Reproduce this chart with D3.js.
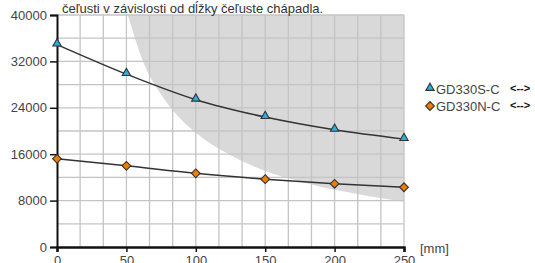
<!DOCTYPE html>
<html>
<head>
<meta charset="utf-8">
<script src="https://cdn.jsdelivr.net/npm/d3@7"></script>
<style>
  body { margin: 0; background: #fff; }
  svg { font-family: "Liberation Sans", Arial, sans-serif; }
</style>
</head>
<body>
<div id="chart"></div>
<script>
// data
const lengths = [0, 50, 100, 150, 200, 250];
const gd330s = [34900, 29800, 25400, 22400, 20200, 18600];
const gd330n = [15200, 14000, 12700, 11700, 10900, 10300];
const limitX = [51, 62, 75, 87, 100, 125, 150, 175, 200, 225, 250];
const limitY = [40000, 32000, 26300, 22600, 19700, 15800, 13100, 11300, 9850, 8750, 7800];
const yTicks = [0, 8000, 16000, 24000, 32000, 40000];
const xTicks = [0, 50, 100, 150, 200, 250];
const seriesNames = ["GD330S-C", "GD330N-C"];
const titleText = "čeľusti v závislosti od dĺžky čeľuste chápadla.";

const W = 535, H = 263;
const m = { left: 57, top: 15, right: 131, bottom: 16 };
const pw = W - m.left - m.right, ph = H - m.top - m.bottom;

const svg = d3.select("#chart").append("svg")
  .attr("width", W)
  .attr("height", H);

const x = d3.scaleLinear().domain([0, 250]).range([0, pw]);
const y = d3.scaleLinear().domain([0, 40000]).range([ph, 0]);

const g = svg.append("g").attr("transform", `translate(${m.left},${m.top})`);

// gray area above the limit curve
const limit = limitX.map((d, i) => [d, limitY[i]]);
const area = d3.area()
  .x(d => x(d[0]))
  .y0(0)
  .y1(d => y(d[1]))
  .curve(d3.curveMonotoneX);
g.append("path")
  .datum(limit)
  .attr("d", area)
  .attr("fill", "#d9d9d9");

// grid
g.append("g")
  .selectAll("line")
  .data(d3.range(1, 16).map(i => i * 250 / 15))
  .enter().append("line")
  .attr("x1", d => x(d)).attr("x2", d => x(d))
  .attr("y1", 0).attr("y2", ph)
  .attr("stroke", "#c4c4c4").attr("stroke-width", 1.3);
g.append("g")
  .selectAll("line")
  .data(d3.range(1, 11).map(i => i * 4000))
  .enter().append("line")
  .attr("x1", 0).attr("x2", pw)
  .attr("y1", d => y(d)).attr("y2", d => y(d))
  .attr("stroke", "#c4c4c4").attr("stroke-width", 1.3);

// axes
const yAxis = g.append("g")
  .call(d3.axisLeft(y).tickValues(yTicks).tickFormat(d3.format("d")).tickSize(7).tickPadding(3));
yAxis.select(".domain").attr("stroke", "#111").attr("stroke-width", 2);
yAxis.selectAll(".tick line").attr("stroke", "#111").attr("stroke-width", 1.5);
yAxis.selectAll("text").attr("font-size", 13).attr("fill", "#444");

const xAxis = g.append("g")
  .attr("transform", `translate(0,${ph})`)
  .call(d3.axisBottom(x).tickValues(xTicks).tickSize(5).tickPadding(4));
xAxis.select(".domain").attr("stroke", "#111").attr("stroke-width", 2.5);
xAxis.selectAll(".tick line").attr("stroke", "#111").attr("stroke-width", 1.5);
xAxis.selectAll("text").attr("font-size", 13).attr("fill", "#444");

g.append("text")
  .attr("x", pw + 16).attr("y", ph + 6)
  .attr("font-size", 13).attr("fill", "#444")
  .text("[mm]");

// title (second line only visible)
svg.append("text")
  .attr("x", 62).attr("y", 13)
  .attr("font-size", 13).attr("fill", "#333")
  .text(titleText);

// lines
const line = d3.line()
  .x((d, i) => x(lengths[i]))
  .y(d => y(d))
  .curve(d3.curveMonotoneX);

[gd330s, gd330n].forEach(s => {
  g.append("path")
    .datum(s)
    .attr("d", line)
    .attr("fill", "none")
    .attr("stroke", "#333")
    .attr("stroke-width", 1.5);
});

const tri = d3.symbol().type(d3.symbolTriangle).size(30);
const dia = d3.symbol().type(d3.symbolSquare).size(38);

g.selectAll(".tri")
  .data(gd330s)
  .enter().append("path")
  .attr("class", "tri")
  .attr("d", tri)
  .attr("transform", (d, i) => `translate(${x(lengths[i])},${y(d) - 1})`)
  .attr("fill", "#2aaee0").attr("stroke", "#333").attr("stroke-width", 1.1);

g.selectAll(".dia")
  .data(gd330n)
  .enter().append("path")
  .attr("class", "dia")
  .attr("d", dia)
  .attr("transform", (d, i) => `translate(${x(lengths[i])},${y(d)}) rotate(45)`)
  .attr("fill", "#f07d00").attr("stroke", "#333").attr("stroke-width", 1.1);

// legend
const legend = svg.append("g").attr("transform", "translate(430,89)");
seriesNames.forEach((name, i) => {
  const row = legend.append("g").attr("transform", `translate(0,${i * 17})`);
  row.append("path")
    .attr("d", i === 0 ? tri : dia)
    .attr("transform", i === 0 ? "translate(0,-1)" : "rotate(45)")
    .attr("fill", i === 0 ? "#2aaee0" : "#f07d00")
    .attr("stroke", "#333").attr("stroke-width", 1.1);
  row.append("text")
    .attr("x", 6).attr("y", 5)
    .attr("font-size", 13).attr("fill", "#444")
    .text(name);
  row.append("text")
    .attr("x", 80).attr("y", 3)
    .attr("font-size", 11).attr("font-weight", "bold").attr("fill", "#111")
    .text("<-->");
});
</script>
</body>
</html>
